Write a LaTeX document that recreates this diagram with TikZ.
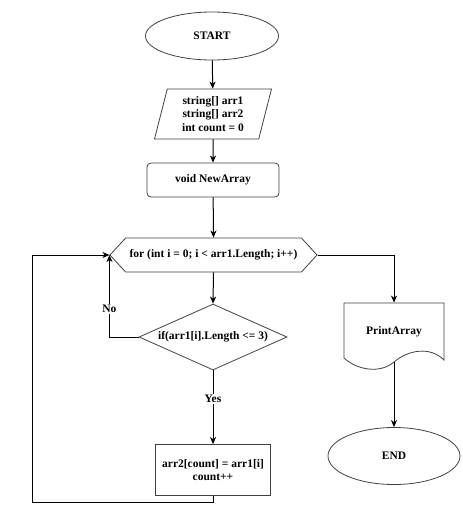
\documentclass[tikz,border=0pt]{standalone}
\usepackage{fontspec}
\setmainfont{Liberation Serif}
\usetikzlibrary{shapes.geometric, shapes.symbols, arrows.meta}

\begin{document}
\begin{tikzpicture}[x=1pt, y=-1pt, line width=0.8pt,
  font=\fontsize{11.5}{13.5}\selectfont\bfseries,
  terminal/.style={draw=black!75, ellipse, minimum width=133pt, minimum height=48pt},
  inputbox/.style={draw=black!75, trapezium, trapezium left angle=73, trapezium right angle=107,
    trapezium stretches body, minimum width=117pt, minimum height=50pt, align=center},
  procbox/.style={draw=black!75, rectangle, align=center},
  loopbox/.style={draw=black!75, signal, signal to=west and east, signal pointer angle=95,
    minimum width=207pt, minimum height=34pt},
  decision/.style={draw=black!75, diamond, aspect=2.24, inner sep=1pt, minimum width=148pt, minimum height=66pt},
  arr/.style={-{Stealth[length=7pt, width=6pt, inset=2pt]}, line width=1pt},
  lbl/.style={fill=white, inner sep=1pt}]
  \useasboundingbox (0,0) rectangle (463,507);
  % Start and declarations
  \node[terminal] (start) at (212,36) {START};
  \node[inputbox] (vars) at (213,114) {string[] arr1\\string[] arr2\\int count = 0};
  \node[procbox, rounded corners=4pt, minimum width=132pt, minimum height=34pt] (newarr) at (213,180) {void NewArray};
  % Loop header and condition
  \node[loopbox] (loop) at (213.5,255) {for (int i = 0; i < arr1.Length; i++)};
  \node[decision] (cond) at (213,337) {if(arr1[i].Length <= 3)};
  \node[procbox, minimum width=115pt, minimum height=51pt, inner sep=2pt] (body) at (213,470)
    {arr2[count] = arr1[i]\\count++};
  % Output document and end
  \node[minimum width=100pt, minimum height=58pt] (print) at (394,332) {PrintArray};
  \draw[black!75] (344,303) -- (444,303) -- (444,360)
    .. controls (430,346) and (408,350) .. (394,362)
    .. controls (380,374) and (357,370) .. (344,358) -- cycle;
  \coordinate (printout) at (394,362);
  \node[terminal, minimum width=132pt, minimum height=57pt] (end) at (394,456) {END};
  \coordinate (lowleft) at (32,502);
  % Connectors
  \draw[arr] (start) -- (vars);
  \draw[arr] (vars) -- (newarr);
  \draw[arr] (newarr) -- (loop.north);
  \draw[arr] (loop.south) -- (cond.north);
  \draw[arr] (cond.west) -| node[lbl, pos=0.67]{No} (loop.west);
  \draw[arr] (cond.south) -- node[lbl, pos=0.39]{Yes} (body.north);
  \draw[arr] (body.south) |- (lowleft) |- (loop.west);
  \draw[arr] (loop.east) -| (print.north);
  \draw[arr] (printout) -- (end.north);
\end{tikzpicture}
\end{document}
